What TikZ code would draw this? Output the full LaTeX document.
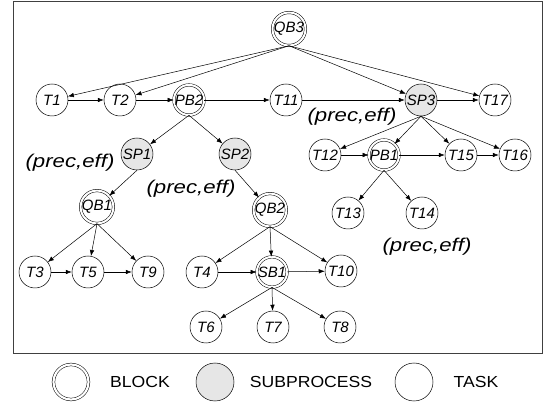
\documentclass[tikz,border=0pt]{standalone}
\usepackage{fontspec}
\newfontfamily\diagfont{Liberation Sans}
\newfontfamily\condfont[FakeStretch=1.2]{Liberation Sans}
\newfontfamily\legfont[FakeStretch=1.1]{Liberation Sans}
\usetikzlibrary{arrows.meta}
\definecolor{subgray}{RGB}{230,230,230}
\tikzset{
    task/.style={circle, draw, minimum size=32pt, inner sep=0pt, font=\diagfont\itshape\fontsize{15}{15}\selectfont},
    block/.style={task, minimum size=29pt, double, double distance=2pt},
    subproc/.style={task, fill=subgray},
    cond/.style={font=\condfont\itshape\fontsize{18.5}{18.5}\selectfont},
    legtext/.style={font=\legfont\fontsize{16}{16}\selectfont},
}
\begin{document}
\begin{tikzpicture}[x=1pt, y=-1pt, line width=0.5pt, >={Latex[length=6pt,width=4.5pt]}]
    \useasboundingbox (0,0) rectangle (544,403);
    \draw[line width=0.8pt, black!75](13,1) rectangle (542,353);%frame
    % - Top level
    \node[block, minimum size=33pt] (QB3) at (289,29){QB3};
    \node[task] (T1) at (52,100){T1};
    \node[task] (T2) at (120,100){T2};
    \node[block] (PB2) at (189,100){PB2};
    \node[task] (T11) at (286,100){T11};
    \node[subproc] (SP3) at (421,100){SP3};
    \node[task] (T17) at (495,100){T17};
    % - Second level
    \node[subproc] (SP1) at (137,154){SP1};
    \node[subproc] (SP2) at (235,154){SP2};
    \node[task] (T12) at (325,155){T12};
    \node[block] (PB1) at (384,155){PB1};
    \node[task] (T15) at (461,155){T15};
    \node[task] (T16) at (515,155){T16};
    % - Third level
    \node[block] (QB1) at (97,207){QB1};
    \node[block] (QB2) at (270,210){QB2};
    \node[task] (T13) at (348,213){T13};
    \node[task] (T14) at (422,213){T14};
    % - Fourth level
    \node[task] (T3) at (35,272){T3};
    \node[task] (T5) at (88,272){T5};
    \node[task] (T9) at (148,272){T9};
    \node[task] (T4) at (202,272){T4};
    \node[block] (SB1) at (272,272){SB1};
    \node[task] (T10) at (341,271){T10};
    % - Bottom level
    \node[task] (T6) at (206,327){T6};
    \node[task] (T7) at (273,327){T7};
    \node[task] (T8) at (340,327){T8};
    % - Conditions
    \node[cond] (C1) at (70,163){(prec,eff)};
    \node[cond] (C2) at (191,189){(prec,eff)};
    \node[cond] (C3) at (352,117){(prec,eff)};
    \node[cond] (C4) at (427,247){(prec,eff)};
    % - Arrows going down
    \draw[->](QB3.south)--(T1);
    \draw[->](QB3.south)--(T2);
    \draw[->](QB3.south)--(SP3);
    \draw[->](QB3.south)--(T17);
    \draw[->](PB2.south)--(SP1);
    \draw[->](PB2.south)--(SP2);
    \draw[->](SP1.south)--(QB1);
    \draw[->](SP2.south)--(QB2);
    \draw[->](QB1.south)--(T3);
    \draw[->](QB1.south)--(T5);
    \draw[->](QB1.south)--(T9);
    \draw[->](QB2.south)--(T4);
    \draw[->](QB2.south)--(SB1);
    \draw[->](QB2.south)--(T10);
    \draw[->](SB1.south)--(T6);
    \draw[->](SB1.south)--(T7);
    \draw[->](SB1.south)--(T8);
    \draw[->](SP3.south)--(T12);
    \draw[->](SP3.south)--(PB1);
    \draw[->](SP3.south)--(T15);
    \draw[->](SP3.south)--(T16);
    \draw[->](PB1.south)--(T13);
    \draw[->](PB1.south)--(T14);
    % - Arrows going right
    \draw[->](T1)--(T2);
    \draw[->](T2)--(PB2);
    \draw[->](PB2)--(T11);
    \draw[->](T11)--(SP3);
    \draw[->](SP3)--(T17);
    \draw[->](T12)--(PB1);
    \draw[->](PB1)--(T15);
    \draw[->](T15)--(T16);
    \draw[->](T3)--(T5);
    \draw[->](T5)--(T9);
    \draw[->](T4)--(SB1);
    \draw[->](SB1)--(T10);
    % - Legend
    \node[block, minimum size=35pt, double distance=2.2pt] (LB) at (71,382){};
    \node[legtext] (LBt) at (140,382){BLOCK};
    \node[subproc, minimum size=38pt] (LS) at (215,382){};
    \node[legtext] (LSt) at (311,382){SUBPROCESS};
    \node[task, minimum size=38pt] (LT) at (414,382){};
    \node[legtext] (LTt) at (476,382){TASK};
\end{tikzpicture}
\end{document}
